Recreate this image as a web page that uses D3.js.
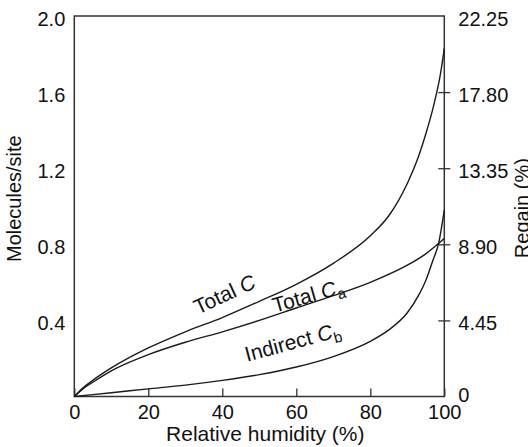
<!DOCTYPE html>
<html>
<head>
<meta charset="utf-8">
<script src="https://cdn.jsdelivr.net/npm/d3@7"></script>
<style>
  html, body { margin: 0; padding: 0; background: #fff; }
  svg { display: block; font-family: "Liberation Sans", Arial, Helvetica, sans-serif; }
</style>
</head>
<body>
<svg id="chart" width="528" height="447"></svg>
<script>
// ---- data ----
const rhTotalC = [0, 2, 5, 10, 20, 30, 40, 50, 60, 70, 80, 85, 90, 93, 95, 97, 99, 100];
const totalC   = [0, 0.04, 0.085, 0.15, 0.255, 0.34, 0.415, 0.50, 0.59, 0.70, 0.845, 0.95, 1.12, 1.26, 1.38, 1.52, 1.70, 1.83];

const rhTotalCa = [0, 2, 5, 10, 20, 30, 40, 50, 60, 70, 80, 90, 95, 100];
const totalCa   = [0, 0.035, 0.075, 0.135, 0.22, 0.285, 0.34, 0.40, 0.465, 0.53, 0.60, 0.69, 0.75, 0.83];

const rhIndirectCb = [0, 10, 20, 30, 40, 50, 60, 70, 80, 85, 90, 93, 95, 97, 98.4, 100];
const indirectCb   = [0, 0.02, 0.04, 0.06, 0.085, 0.115, 0.155, 0.21, 0.29, 0.35, 0.44, 0.53, 0.61, 0.72, 0.80, 0.98];

const xTicks = [0, 20, 40, 60, 80, 100];
const yTicksLeft = [0.4, 0.8, 1.2, 1.6, 2.0];
const yTickLabelsLeft = ["0.4", "0.8", "1.2", "1.6", "2.0"];
const yTicksRight = [0, 0.4, 0.8, 1.2, 1.6, 2.0];
const yTickLabelsRight = ["0", "4.45", "8.90", "13.35", "17.80", "22.25"];

const xTitle = "Relative humidity (%)";
const yTitleLeft = "Molecules/site";
const yTitleRight = "Regain (%)";

// annotation anchors (data coordinates) and text
const curveLabels = [
  { main: "Total ", ital: "C", sub: "",  rh: 33.4, v: 0.43, angle: -25 },
  { main: "Total ", ital: "C", sub: "a", rh: 54.2, v: 0.44,  angle: -16 },
  { main: "Indirect ", ital: "C", sub: "b", rh: 46.7, v: 0.183, angle: -15 }
];

// ---- chart ----
const svg = d3.select("#chart");
const x = d3.scaleLinear().domain([0, 100]).range([74.3, 444.3]);
const y = d3.scaleLinear().domain([0, 2]).range([396.5, 16]);
const ink = "#1a1a1a";

// frame
svg.append("rect")
  .attr("x", x(0)).attr("y", y(2))
  .attr("width", x(100) - x(0)).attr("height", y(0) - y(2))
  .attr("fill", "none").attr("stroke", "#333").attr("stroke-width", 1.5);

// bottom axis: inward ticks
const xAxis = d3.axisBottom(x).tickValues(xTicks).tickSizeInner(-8).tickSizeOuter(0).tickPadding(14);
const gx = svg.append("g").attr("transform", `translate(0,${y(0)})`).call(xAxis);
gx.select(".domain").remove();
gx.selectAll(".tick line").attr("stroke", "#333").attr("stroke-width", 1.3);
gx.selectAll(".tick text").attr("font-size", 20).attr("fill", "#111").attr("font-family", null)
  .attr("dy", null).attr("y", 22);

// left axis: labels only
const yAxisL = d3.axisLeft(y).tickValues(yTicksLeft).tickSize(0).tickPadding(9)
  .tickFormat((d, i) => yTickLabelsLeft[i]);
const gyl = svg.append("g").attr("transform", `translate(${x(0)},0)`).call(yAxisL);
gyl.select(".domain").remove();
gyl.selectAll(".tick text").attr("font-size", 20).attr("fill", "#111").attr("font-family", null)
  .attr("dy", "0.45em");

// right axis: crossing ticks
const yAxisR = d3.axisRight(y).tickValues(yTicksRight).tickSize(0).tickPadding(14)
  .tickFormat((d, i) => yTickLabelsRight[i]);
const gyr = svg.append("g").attr("transform", `translate(${x(100)},0)`).call(yAxisR);
gyr.select(".domain").remove();
gyr.selectAll(".tick text").attr("font-size", 20).attr("fill", "#111").attr("font-family", null)
  .attr("dy", d => d === 0 ? "0.25em" : "0.45em");
gyr.selectAll(".tick").filter(d => d > 0 && d < 2).append("line")
  .attr("x1", -6).attr("x2", 6).attr("stroke", "#333").attr("stroke-width", 1.3);

// titles
svg.append("text").attr("x", (x(0) + x(100)) / 2 + 6).attr("y", 441)
  .attr("text-anchor", "middle").attr("font-size", 21).attr("fill", "#111").text(xTitle);
svg.append("text").attr("transform", `translate(21,${y(1.04)}) rotate(-90)`)
  .attr("text-anchor", "middle").attr("font-size", 20).attr("fill", "#111").text(yTitleLeft);
svg.append("text").attr("transform", `translate(529,${y(0.99)}) rotate(-90)`)
  .attr("text-anchor", "middle").attr("font-size", 20).attr("fill", "#111").text(yTitleRight);

// curves
const line = d3.line().x(d => x(d[0])).y(d => y(d[1])).curve(d3.curveMonotoneX);
const series = [
  d3.zip(rhTotalC, totalC),
  d3.zip(rhTotalCa, totalCa),
  d3.zip(rhIndirectCb, indirectCb)
];
svg.append("g").selectAll("path").data(series).join("path")
  .attr("d", line).attr("fill", "none").attr("stroke", ink).attr("stroke-width", 1.4);

// curve labels
curveLabels.forEach(l => {
  const t = svg.append("text")
    .attr("transform", `translate(${x(l.rh)},${y(l.v)}) rotate(${l.angle})`)
    .attr("font-size", 21).attr("fill", "#111");
  t.append("tspan").text(l.main);
  t.append("tspan").attr("font-style", "italic").text(l.ital);
  if (l.sub) t.append("tspan").attr("font-size", 15).attr("dy", 5).text(l.sub);
});
</script>
</body>
</html>
